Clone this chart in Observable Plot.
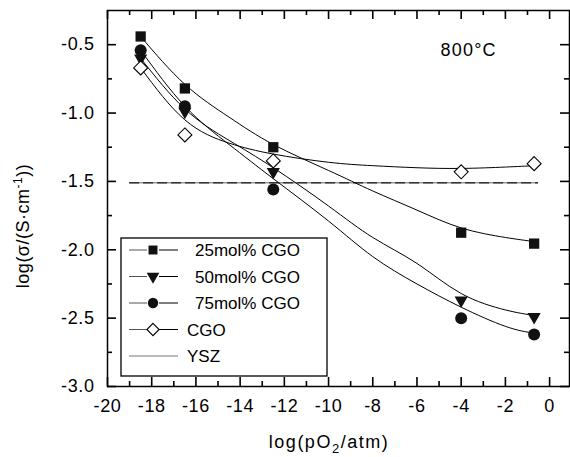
<!DOCTYPE html>
<html><head><meta charset="utf-8">
<script src="https://cdn.jsdelivr.net/npm/d3@7"></script>
<script src="https://cdn.jsdelivr.net/npm/@observablehq/plot@0.6"></script>
<style>
body{margin:0;background:#fff;}
#wrap{position:relative;width:570px;height:457px;}
</style>
</head><body><div id="wrap"></div>
<script>
// ---- data ----
const seriesNames = ["25mol% CGO", "50mol% CGO", "75mol% CGO", "CGO", "YSZ"];
const xPoints = [-18.5, -16.5, -12.5, -4, -0.7];
const cgo25 = [-0.44, -0.82, -1.25, -1.875, -1.955];
const cgo50 = [-0.60, -0.99, -1.43, -2.37, -2.49];
const cgo75 = [-0.54, -0.95, -1.56, -2.50, -2.62];
const cgoPure = [-0.67, -1.16, -1.35, -1.43, -1.37];
const yszLevel = -1.51;
const yszSpan = [-19, -0.5];
// fitted curves
const fitX = [-18.5, -16.5, -14.5, -12.5, -10, -8, -6, -4, -2, -0.7];
const fit25 = [-0.44, -0.79, -1.03, -1.23, -1.42, -1.57, -1.71, -1.84, -1.91, -1.94];
const fit50 = [-0.60, -0.97, -1.20, -1.40, -1.68, -1.91, -2.10, -2.32, -2.44, -2.48];
const fit75 = [-0.54, -0.95, -1.23, -1.48, -1.79, -2.05, -2.25, -2.42, -2.56, -2.61];
const fitCgo = [-0.67, -1.05, -1.22, -1.30, -1.36, -1.385, -1.40, -1.405, -1.395, -1.385];
const xMajor = [-20, -18, -16, -14, -12, -10, -8, -6, -4, -2, 0];
const xMinor = [-19, -17, -15, -13, -11, -9, -7, -5, -3, -1];
const yMajor = [-3.0, -2.5, -2.0, -1.5, -1.0, -0.5];
const yMinor = [-2.75, -2.25, -1.75, -1.25, -0.75];

const font = '"Liberation Sans", Arial, Helvetica, sans-serif';
const W = 570, H = 457, mL = 107, mR = 1, mT = 10, mB = 71;
const iw = W - mL - mR, ih = H - mT - mB;

const pts = (ys) => xPoints.map((x, i) => ({x, y: ys[i]}));
const fit = (ys) => fitX.map((x, i) => ({x, y: ys[i]}));
const tk = {stroke: "#000", strokeWidth: 1.6};

const plot = Plot.plot({
  width: W, height: H,
  marginLeft: mL, marginRight: mR, marginTop: mT, marginBottom: mB,
  style: {fontFamily: font, fontSize: "18px", color: "#000", background: "#fff", overflow: "visible"},
  x: {domain: [-20, 0.9]},
  y: {domain: [-3, -0.25]},
  marks: [
    Plot.ruleY([yszLevel], {x1: yszSpan[0], x2: yszSpan[1], stroke: "#999", strokeWidth: 1.6}),
    Plot.ruleY([yszLevel], {x1: yszSpan[0], x2: yszSpan[1], stroke: "#333", strokeWidth: 1.6, strokeDasharray: "10,4"}),
    Plot.line(fit(fit25), {x: "x", y: "y", curve: "natural", stroke: "#000", strokeWidth: 1}),
    Plot.line(fit(fit50), {x: "x", y: "y", curve: "natural", stroke: "#000", strokeWidth: 1}),
    Plot.line(fit(fit75), {x: "x", y: "y", curve: "natural", stroke: "#000", strokeWidth: 1}),
    Plot.line(fit(fitCgo), {x: "x", y: "y", curve: "natural", stroke: "#000", strokeWidth: 1}),
    Plot.dot(pts(cgo25), {x: "x", y: "y", symbol: "square", r: 5.8, fill: "#111", stroke: "none"}),
    Plot.dot(pts(cgo50), {x: "x", y: "y", symbol: "triangle", rotate: 180, r: 4.9, fill: "#111", stroke: "none"}),
    Plot.dot(pts(cgo75), {x: "x", y: "y", symbol: "circle", r: 6, fill: "#111", stroke: "none"}),
    Plot.dot(pts(cgoPure), {x: "x", y: "y", symbol: "diamond2", r: 6.3, fill: "#fff", stroke: "#000", strokeWidth: 1.1}),
    Plot.axisX({ticks: xMajor, tickSize: 0, tickPadding: 13, tickFormat: d => String(d), label: null, fontSize: 18}),
    Plot.axisY({ticks: yMajor, tickSize: 0, tickPadding: 13, tickFormat: d => d.toFixed(1), label: null, fontSize: 18}),
    Plot.frame({stroke: "#000", strokeWidth: 1.5}),
    // inward ticks on all four sides
    Plot.tickX(xMajor, {x: d => d, insetTop: ih - 9, ...tk}),
    Plot.tickX(xMinor, {x: d => d, insetTop: ih - 5, ...tk}),
    Plot.tickX(xMajor, {x: d => d, insetBottom: ih - 9, ...tk}),
    Plot.tickX(xMinor, {x: d => d, insetBottom: ih - 5, ...tk}),
    Plot.tickY(yMajor, {y: d => d, insetRight: iw - 9, ...tk}),
    Plot.tickY(yMinor, {y: d => d, insetRight: iw - 5, ...tk}),
    Plot.tickY(yMajor, {y: d => d, insetLeft: iw - 9, ...tk}),
    Plot.tickY(yMinor, {y: d => d, insetLeft: iw - 5, ...tk}),
    Plot.text(["800°C"], {text: d => d, frameAnchor: "top-right", textAnchor: "start", dx: -129, dy: 33, fontSize: 18})
  ]
});
document.getElementById("wrap").appendChild(plot);

const svg = d3.select(plot);
svg.selectAll("[aria-label='x-axis tick label'] text, [aria-label='y-axis tick label'] text").attr("letter-spacing", "0.6px");
svg.selectAll("[aria-label='text'] text").attr("letter-spacing", "1.2px");

// axis titles
const xt = svg.append("text").attr("x", 329).attr("y", 448).attr("text-anchor", "middle")
  .attr("font-family", font).attr("font-size", 18).attr("letter-spacing", "1.5px").attr("fill", "#000");
xt.append("tspan").text("log(pO");
xt.append("tspan").attr("font-size", 13).attr("dy", 5).text("2");
xt.append("tspan").attr("dy", -5).text("/atm)");

const yt = svg.append("text").attr("transform", "translate(29,226) rotate(-90)").attr("text-anchor", "middle")
  .attr("font-family", font).attr("font-size", 18).attr("letter-spacing", "0.5px").attr("fill", "#000");
yt.append("tspan").text("log(σ/(S·cm");
yt.append("tspan").attr("font-size", 12).attr("dy", -7).text("-1");
yt.append("tspan").attr("dy", 7).text("))");

// legend
const lg = svg.append("g").attr("transform", "translate(121,238)");
lg.append("rect").attr("width", 206).attr("height", 138).attr("fill", "#fff").attr("stroke", "#000").attr("stroke-width", 1.3);
const legendSymbols = [
  {sym: d3.symbolSquare, size: 80, fill: "#111", stroke: "none", rot: 0},
  {sym: d3.symbolTriangle, size: 70, fill: "#111", stroke: "none", rot: 180},
  {sym: d3.symbolCircle, size: 85, fill: "#111", stroke: "none", rot: 0},
  {sym: d3.symbolDiamond2, size: 95, fill: "#fff", stroke: "#000", rot: 0},
  null
];
const textX = [74, 74, 74, 66, 66];
seriesNames.forEach((name, i) => {
  const yy = 12 + i * 26.5;
  const g = lg.append("g").attr("transform", `translate(0,${yy})`);
  if (legendSymbols[i]) {
    const s = legendSymbols[i];
    g.append("line").attr("x1", 8).attr("x2", 26).attr("stroke", "#555").attr("stroke-width", 1);
    g.append("line").attr("x1", 38).attr("x2", 57).attr("stroke", "#000").attr("stroke-width", 1);
    g.append("path").attr("d", d3.symbol(s.sym, s.size)()).attr("transform", `translate(32,0) rotate(${s.rot})`)
      .attr("fill", s.fill).attr("stroke", s.stroke).attr("stroke-width", 1.1);
  } else {
    g.append("line").attr("x1", 8).attr("x2", 57).attr("stroke", "#777").attr("stroke-width", 1.2);
  }
  g.append("text").attr("x", textX[i]).attr("y", 6).attr("text-anchor", "start")
    .attr("font-family", font).attr("font-size", 17).attr("fill", "#000").text(name);
});
</script>
</body></html>
